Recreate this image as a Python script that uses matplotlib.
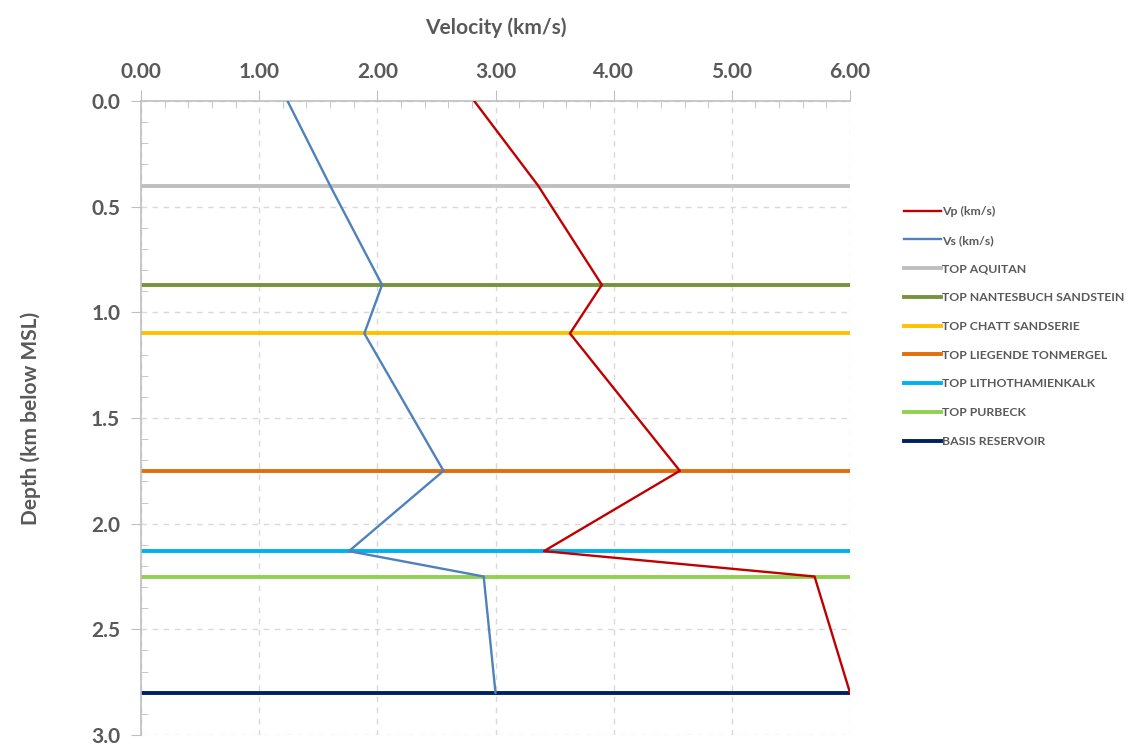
import matplotlib
matplotlib.use("Agg")
import matplotlib.pyplot as plt
from matplotlib.ticker import MultipleLocator, FormatStrFormatter

# Data
depth_pts = [0.0, 0.40, 0.87, 1.10, 1.75, 2.13, 2.25, 2.80]
vp = [2.82, 3.36, 3.90, 3.63, 4.56, 3.41, 5.70, 6.00]
vs = [1.24, 1.60, 2.04, 1.89, 2.56, 1.76, 2.90, 3.00]

horizon_names = ["TOP AQUITAN", "TOP NANTESBUCH SANDSTEIN", "TOP CHATT SANDSERIE",
                 "TOP LIEGENDE TONMERGEL", "TOP LITHOTHAMIENKALK", "TOP PURBECK",
                 "BASIS RESERVOIR"]
horizon_depths = [0.40, 0.87, 1.10, 1.75, 2.13, 2.25, 2.80]
horizon_colors = ["#BFBFBF", "#77933C", "#FFC000", "#E46C0A", "#00B0F0", "#92D050", "#002060"]

vp_color = "#C00000"
vs_color = "#4F81BD"
txt = "#595959"

plt.rcParams['font.family'] = ['Lato', 'DejaVu Sans']

fig = plt.figure(figsize=(11.39, 7.45), dpi=100)
ax = fig.add_axes([141/1139, 1-735/745, (850-141)/1139, (735-101)/745])

handles = []
for name, d, c in zip(horizon_names, horizon_depths, horizon_colors):
    h = ax.axhline(d, color=c, lw=2.8, zorder=2, label=name)
    handles.append(h)

hp, = ax.plot(vp, depth_pts, color=vp_color, lw=1.7, zorder=3, label="Vp (km/s)")
hs, = ax.plot(vs, depth_pts, color=vs_color, lw=1.7, zorder=3, label="Vs (km/s)")

ax.set_xlim(0, 6)
ax.set_ylim(3, 0)

ax.xaxis.tick_top()
ax.xaxis.set_label_position("top")
ax.xaxis.set_major_locator(MultipleLocator(1))
ax.xaxis.set_minor_locator(MultipleLocator(0.2))
ax.xaxis.set_major_formatter(FormatStrFormatter("%.2f"))
ax.yaxis.set_major_locator(MultipleLocator(0.5))
ax.yaxis.set_minor_locator(MultipleLocator(0.1))
ax.yaxis.set_major_formatter(FormatStrFormatter("%.1f"))

ax.grid(True, which="major", color="#D9D9D9", lw=1.0, ls=(0, (4, 4)), zorder=1)
ax.set_axisbelow(True)

for s in ["right", "bottom"]:
    ax.spines[s].set_visible(False)
for s in ["top", "left"]:
    ax.spines[s].set_color("#BFBFBF")
    ax.spines[s].set_linewidth(1.2)

ax.tick_params(axis="x", which="major", direction="out", length=8, color="#BFBFBF",
               labelsize=15, labelcolor=txt, pad=6)
ax.tick_params(axis="x", which="minor", direction="in", length=5, color="#BFBFBF")
ax.tick_params(axis="y", which="major", direction="out", length=7, color="#BFBFBF",
               labelsize=15, labelcolor=txt, pad=8)
ax.tick_params(axis="y", which="minor", direction="in", length=5, color="#BFBFBF")
for lab in ax.get_xticklabels() + ax.get_yticklabels():
    lab.set_fontweight("bold")

ax.set_xlabel("Velocity (km/s)", fontsize=15, fontweight="bold", color=txt, labelpad=20)
ax.set_ylabel("Depth (km below MSL)", fontsize=15, fontweight="bold", color=txt, labelpad=36)

leg = fig.legend([hp, hs] + handles, ["Vp (km/s)", "Vs (km/s)"] + horizon_names,
                 loc="upper left", bbox_to_anchor=(904/1139, 1-206/745),
                 frameon=False, fontsize=8.8, handlelength=3.0, handletextpad=0.1,
                 labelspacing=1.45, borderpad=0, borderaxespad=0)
for t in leg.get_texts():
    t.set_color(txt)
    t.set_fontweight("bold")

fig.savefig("out.png", dpi=100)
